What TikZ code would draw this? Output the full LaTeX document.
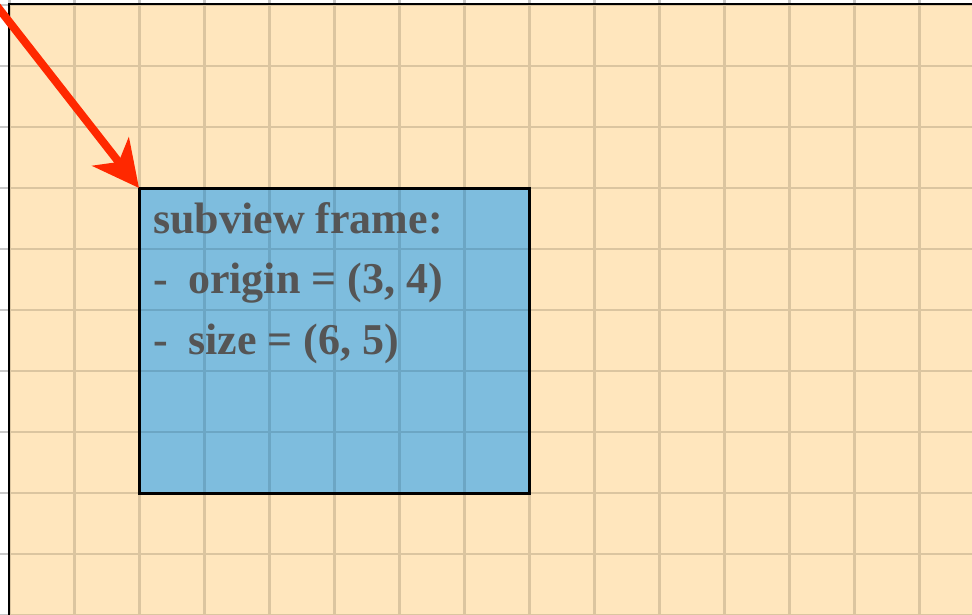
\documentclass[tikz,border=0pt]{standalone}
\usepackage{fontspec}
\setmainfont{Liberation Serif}
\usetikzlibrary{arrows.meta}
\definecolor{beige}{RGB}{255,230,189}
\definecolor{subblue}{RGB}{126,189,222}
\definecolor{arrowred}{RGB}{255,40,0}
\definecolor{txtgrey}{RGB}{85,85,85}
\definecolor{gridgrey}{RGB}{200,200,200}
\definecolor{gridtan}{RGB}{219,197,160}
\definecolor{gridblue}{RGB}{108,166,196}
\begin{document}
\begin{tikzpicture}[x=1pt,y=-1pt,
  gridline/.style={line width=2.2pt},
  border/.style={draw=black,line width=2.6pt},
  labeltext/.style={anchor=base west,inner sep=0pt,text=txtgrey,font=\fontsize{44}{61}\selectfont\bfseries},
  pointer/.style={draw=arrowred,line width=8pt,-{Stealth[length=46pt,width=46pt,inset=13pt]}}]
\useasboundingbox (0,0) rectangle (972,614);
\clip (0,0) rectangle (972,614);
\fill[white] (0,0) rectangle (972,614);
% grid over white
\foreach \x in {9.5,74.5,...,980} \draw[gridline,gridgrey] (\x,0) -- (\x,614);
\foreach \y in {5,66,...,620} \draw[gridline,gridgrey] (0,\y) -- (972,\y);
% superview
\fill[beige] (9,4) rectangle (1000,650);
\begin{scope}
\clip (9,4) rectangle (1000,650);
\foreach \x in {9.5,74.5,...,980} \draw[gridline,gridtan] (\x,0) -- (\x,614);
\foreach \y in {5,66,...,620} \draw[gridline,gridtan] (0,\y) -- (972,\y);
\end{scope}
% subview frame
\node[fill=subblue,minimum width=390pt,minimum height=305pt,anchor=north west,inner sep=0pt,outer sep=0pt] (frame) at (139,188) {};
\begin{scope}
\clip (frame.north west) rectangle (frame.south east);
\foreach \x in {9.5,74.5,...,980} \draw[gridline,gridblue] (\x,0) -- (\x,614);
\foreach \y in {5,66,...,620} \draw[gridline,gridblue] (0,\y) -- (972,\y);
\end{scope}
% borders
\draw[border] (1000,4) -- (9,4) -- (9,650);
\draw[border,line width=3pt] (frame.north west) rectangle (frame.south east);
% text
\node[labeltext] (title) at (153,233) {subview frame:};
\node[labeltext] (origin) at (153,293) {\makebox[35pt][l]{-}origin = (3, 4)};
\node[labeltext] (size) at (153,354) {\makebox[35pt][l]{-}size = (6, 5)};
% arrow
\coordinate (arrowstart) at (-25,-22);
\draw[pointer] (arrowstart) -- (frame.north west);
\end{tikzpicture}
\end{document}
